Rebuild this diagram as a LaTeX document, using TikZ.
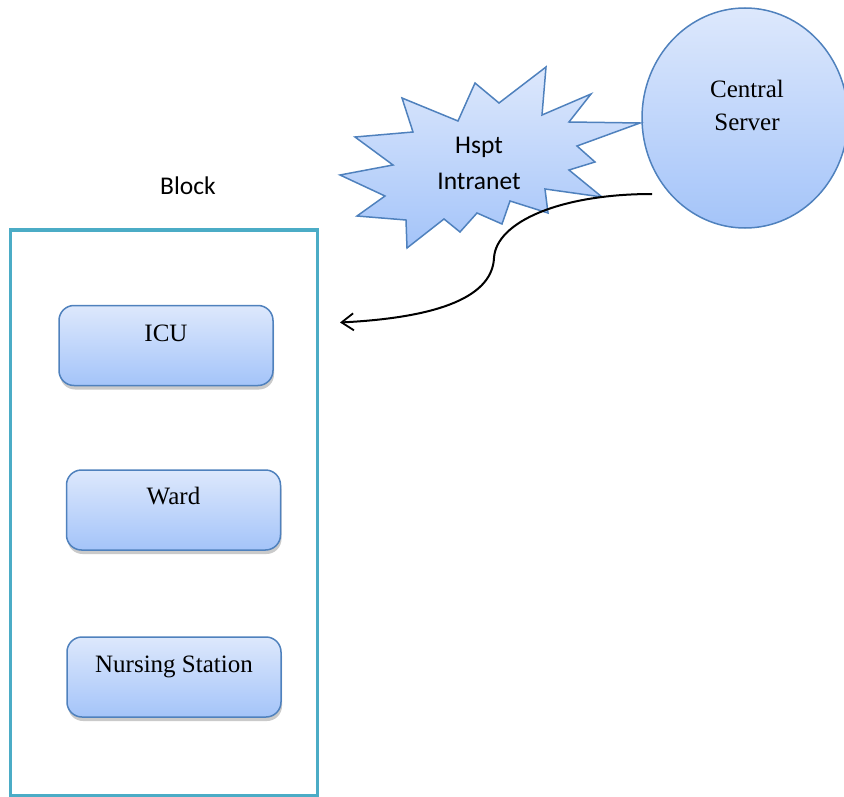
\documentclass[tikz,border=0pt]{standalone}
\usepackage{fontspec}
\setmainfont{Liberation Serif}
\newfontfamily\calfont{Carlito}
\usetikzlibrary{shapes.geometric,shadows,arrows.meta}
\definecolor{edgeblue}{RGB}{79,129,189}
\definecolor{toplight}{RGB}{221,232,252}
\definecolor{botdark}{RGB}{164,196,249}
\definecolor{blockcol}{RGB}{75,172,198}
\tikzset{
  unitbox/.style={draw=edgeblue, line width=1.5pt, rounded corners=15pt,
    top color=toplight, bottom color=botdark,
    minimum width=214pt, minimum height=80pt, inner sep=0pt,
    drop shadow={shadow xshift=1pt, shadow yshift=-4pt, opacity=0.35, fill=black!60}},
  serif/.style={font=\fontsize{25}{33}\selectfont, inner sep=0pt},
  sans/.style={font=\calfont\fontsize{25.5}{36}\selectfont, inner sep=0pt},
  link/.style={line width=2pt, -{Straight Barb[length=12pt,width=17pt,line width=1.8pt]}}
}
\begin{document}
\begin{tikzpicture}[x=1pt,y=-1pt]
\useasboundingbox (0,0) rectangle (844,797);
% block
\draw[blockcol, line width=3.5pt] (10.5,796) -- (10.5,230) -- (317.5,230) -- (317.5,796) -- cycle;
\node[sans, anchor=base] (blocklbl) at (188,195) {Block};
% unit boxes
\node[unitbox] (icu) at (166,345.5) {};
\node[serif, anchor=base] (icut) at ([yshift=-37pt]icu.north) {ICU};
\node[unitbox] (ward) at (173.5,510) {};
\node[serif, anchor=base] (wardt) at ([yshift=-35pt]ward.north) {Ward};
\node[unitbox] (nurse) at (174,677) {};
\node[serif, anchor=base] (nurset) at ([yshift=-36pt]nurse.north) {Nursing Station};
% central server
\node[ellipse, draw=edgeblue, line width=1.5pt, top color=toplight, bottom color=botdark,
      minimum width=206pt, minimum height=220pt, inner sep=0pt] (srv) at (745,118) {};
\node[serif, align=center] (srvt) at (747,105) {Central\\Server};
% intranet star
\draw[draw=edgeblue, line width=1.5pt, top color=toplight, bottom color=botdark, line join=miter]
  (402,98) -- (458,121) -- (475,83) -- (499,103) -- (546,67) -- (542,115) -- (591,94)
  -- (569,122) -- (640,123) -- (577,146) -- (595,162) -- (569,170) -- (602,197)
  -- (545,189) -- (548,213) -- (510,201) -- (502,224) -- (477,213) -- (460,232)
  -- (444,219) -- (407,248) -- (406,220) -- (357,216) -- (385,196) -- (340,175)
  -- (393,165) -- (355,137) -- (413,132) -- cycle;
\node[sans, align=center] (net) at (479,163) {Hspt\\Intranet};
% connector
\coordinate (from) at (652,194);
\coordinate (mid) at (494,258);
\coordinate (to) at (340,322.5);
\draw[link] (from) .. controls (560,194) and (496,222) .. (mid)
  .. controls (492,300) and (430,318) .. (to);
\end{tikzpicture}
\end{document}
